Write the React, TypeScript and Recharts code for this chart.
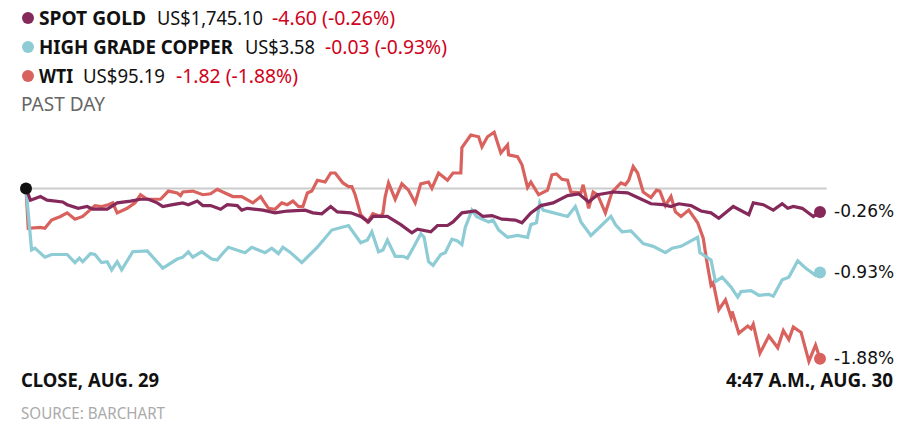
import React from "react";
import {
  LineChart,
  Line,
  XAxis,
  YAxis,
  ReferenceLine,
  ReferenceDot,
} from "recharts";

// minutes since close (t) and % change (v)
const goldPoints: [number, number][] = [
  [0, 0], [4, -0.13], [13, -0.09], [19, -0.13], [33, -0.15], [37, -0.18], [47, -0.22],
  [55, -0.2], [60, -0.23], [73, -0.23], [82, -0.16], [94, -0.14], [103, -0.12], [110, -0.12],
  [118, -0.16], [123, -0.2], [132, -0.18], [141, -0.16], [146, -0.18], [154, -0.14], [159, -0.19],
  [166, -0.19], [175, -0.23], [181, -0.18], [190, -0.19], [194, -0.24], [199, -0.22], [213, -0.24],
  [224, -0.27], [235, -0.25], [251, -0.24], [258, -0.27], [266, -0.28], [274, -0.2], [280, -0.26],
  [292, -0.27], [301, -0.31], [308, -0.37], [312, -0.31], [325, -0.31], [337, -0.4], [347, -0.49],
  [352, -0.45], [364, -0.48], [370, -0.41], [379, -0.41], [384, -0.37], [392, -0.27], [404, -0.25],
  [411, -0.31], [419, -0.3], [428, -0.34], [440, -0.35], [446, -0.38], [454, -0.27], [463, -0.19],
  [474, -0.16], [487, -0.08], [497, -0.06], [506, -0.15], [514, -0.07], [528, -0.04], [541, -0.05],
  [550, -0.1], [562, -0.17], [573, -0.18], [580, -0.2], [587, -0.17], [598, -0.19], [607, -0.25],
  [616, -0.27], [623, -0.33], [636, -0.2], [650, -0.29], [654, -0.16], [663, -0.18], [672, -0.24],
  [680, -0.17], [685, -0.22], [690, -0.2], [698, -0.22], [708, -0.31], [714, -0.26],
];

const copperPoints: [number, number][] = [
  [0, 0], [5, -0.68], [8, -0.66], [17, -0.76], [23, -0.73], [37, -0.73], [44, -0.82], [48, -0.77],
  [51, -0.81], [58, -0.72], [62, -0.73], [68, -0.82], [73, -0.81], [77, -0.9], [82, -0.81],
  [86, -0.9], [96, -0.7], [109, -0.69], [123, -0.88], [136, -0.78], [141, -0.76], [146, -0.7],
  [150, -0.76], [158, -0.7], [167, -0.78], [172, -0.79], [176, -0.73], [182, -0.65], [197, -0.71],
  [203, -0.65], [215, -0.71], [221, -0.66], [227, -0.72], [231, -0.65], [238, -0.71], [248, -0.82],
  [262, -0.65], [275, -0.46], [290, -0.41], [301, -0.6], [307, -0.57], [311, -0.48], [317, -0.7],
  [321, -0.68], [325, -0.57], [332, -0.75], [339, -0.75], [343, -0.77], [348, -0.66], [355, -0.5],
  [358, -0.54], [362, -0.81], [366, -0.85], [373, -0.73], [377, -0.71], [383, -0.56], [388, -0.58],
  [392, -0.62], [395, -0.43], [401, -0.24], [405, -0.31], [416, -0.37], [420, -0.35], [425, -0.46],
  [433, -0.54], [442, -0.52], [451, -0.54], [454, -0.4], [459, -0.38], [462, -0.16], [465, -0.24],
  [487, -0.31], [494, -0.2], [499, -0.37], [508, -0.52], [526, -0.31], [530, -0.4], [536, -0.48],
  [544, -0.47], [555, -0.61], [564, -0.64], [575, -0.71], [581, -0.66], [589, -0.64], [604, -0.54],
  [606, -0.71], [616, -0.79], [620, -1.03], [626, -0.98], [634, -1.09], [640, -1.2], [643, -1.14],
  [652, -1.13], [659, -1.18], [668, -1.17], [672, -1.19], [680, -1.01], [686, -0.98], [694, -0.8],
  [701, -0.88], [710, -0.96], [714, -0.93],
];

const wtiPoints: [number, number][] = [
  [0, 0], [2, -0.44], [13, -0.43], [17, -0.44], [23, -0.35], [31, -0.31], [37, -0.27], [44, -0.34],
  [51, -0.31], [62, -0.19], [68, -0.2], [74, -0.18], [78, -0.16], [82, -0.27], [91, -0.22],
  [98, -0.16], [103, -0.07], [109, -0.12], [121, -0.12], [128, -0.03], [136, -0.05], [139, -0.08],
  [141, -0.04], [150, -0.03], [159, -0.07], [166, -0.06], [172, -0.01], [177, -0.04], [186, -0.09],
  [194, -0.09], [204, -0.16], [211, -0.09], [213, -0.13], [218, -0.22], [224, -0.23], [230, -0.16],
  [235, -0.18], [240, -0.14], [245, -0.2], [249, -0.2], [253, -0.05], [257, -0.03], [262, 0.09],
  [269, 0.07], [274, 0.17], [278, 0.17], [285, 0.06], [290, 0.02], [293, 0.02], [296, -0.07],
  [301, -0.29], [307, -0.37], [312, -0.28], [319, -0.31], [321, -0.27], [323, -0.09], [326, 0.06],
  [332, -0.12], [338, 0.05], [344, -0.02], [350, -0.16], [355, 0.05], [362, 0.07], [365, 0.0],
  [371, 0.17], [379, 0.09], [384, 0.17], [391, 0.17], [392, 0.45], [400, 0.59], [407, 0.57],
  [410, 0.46], [415, 0.57], [421, 0.62], [427, 0.39], [433, 0.48], [434, 0.37], [442, 0.35],
  [446, 0.26], [451, 0.01], [454, 0.07], [461, -0.07], [469, -0.02], [473, 0.15], [477, 0.16],
  [482, 0.1], [487, 0.09], [490, -0.04], [499, -0.05], [501, 0.04], [506, -0.22], [510, -0.04],
  [514, -0.07], [521, -0.27], [527, -0.04], [535, 0.06], [539, 0.04], [542, 0.09], [546, 0.24],
  [550, 0.17], [555, -0.04], [562, -0.1], [567, -0.02], [570, -0.03], [575, -0.19], [580, -0.09],
  [584, -0.26], [589, -0.31], [596, -0.24], [604, -0.38], [609, -0.55], [612, -0.79], [616, -1.07],
  [618, -1.04], [623, -1.34], [629, -1.23], [634, -1.42], [635, -1.36], [641, -1.6], [649, -1.52],
  [652, -1.55], [654, -1.5], [660, -1.82], [668, -1.63], [676, -1.76], [681, -1.57], [686, -1.67],
  [690, -1.53], [697, -1.59], [704, -1.91], [710, -1.73], [714, -1.88],
];

const series = [
  { key: "wti", label: "-1.88%", color: "#d9625e", points: wtiPoints },
  { key: "copper", label: "-0.93%", color: "#8dcbd5", points: copperPoints },
  { key: "gold", label: "-0.26%", color: "#84295a", points: goldPoints },
];

const legendNames = ["SPOT GOLD", "HIGH GRADE COPPER", "WTI"];
const legendPrices = ["US$1,745.10", "US$3.58", "US$95.19"];
const legendChanges = ["-4.60 (-0.26%)", "-0.03 (-0.93%)", "-1.82 (-1.88%)"];
const legendColors = ["#84295a", "#8dcbd5", "#d9625e"];

// [start x, width] of each legend piece as measured on the original
const legendLayout = [
  [[39, 107], [157, 106], [272, 123]],
  [[39, 194], [245, 70], [325, 122]],
  [[39, 34], [83, 82], [176, 122]],
];

const font = "'Noto Sans', 'Open Sans', sans-serif";
const labelFont = "'DejaVu Sans', sans-serif";

const endDot = (color: string, label: string, last: number) => (props: any) => {
  const { cx, cy, index } = props;
  if (index !== last) return <g key={index} />;
  return (
    <g key={index}>
      <circle cx={cx} cy={cy} r={6} fill={color} />
      <text
        x={cx + 14}
        y={cy}
        dy="0.3em"
        fontSize={17}
        fontFamily={labelFont}
        fill="#111"
      >
        {label}
      </text>
    </g>
  );
};

const Txt = ({ x, y, w, size, weight, color, family, children }: any) => (
  <text
    x={x}
    y={y}
    fontSize={size}
    fontWeight={weight || 400}
    fill={color}
    fontFamily={family || font}
    textLength={w}
    lengthAdjust="spacingAndGlyphs"
  >
    {children}
  </text>
);

export default function App() {
  return (
    <div
      style={{
        position: "relative",
        width: 915,
        height: 430,
        margin: -8,
        background: "#fff",
        overflow: "hidden",
      }}
    >
      <svg
        width={915}
        height={430}
        style={{ position: "absolute", left: 0, top: 0 }}
      >
        {legendNames.map((name, i) => {
          const base = 25 + i * 29;
          const [n, p, c] = legendLayout[i];
          return (
            <g key={name}>
              <circle cx={28} cy={base - 7} r={6} fill={legendColors[i]} />
              <Txt x={n[0]} y={base} w={n[1]} size={19.5} weight={700} color="#111">
                {name}
              </Txt>
              <Txt x={p[0]} y={base} w={p[1]} size={19.5} color="#111">
                {legendPrices[i]}
              </Txt>
              <Txt x={c[0]} y={base} w={c[1]} size={19.5} color="#d0021b">
                {legendChanges[i]}
              </Txt>
            </g>
          );
        })}
        <Txt x={21} y={111} w={84} size={19.5} color="#666">
          PAST DAY
        </Txt>
        <Txt x={21} y={387} w={138} size={19} weight={700} color="#111">
          CLOSE, AUG. 29
        </Txt>
        <Txt x={726} y={387} w={167} size={19} weight={700} color="#111">
          4:47 A.M., AUG. 30
        </Txt>
        <Txt x={21} y={419} w={144} size={15.5} color="#aaaaaa">
          SOURCE: BARCHART
        </Txt>
      </svg>

      <div style={{ position: "absolute", left: 0, top: 0 }}>
        <LineChart
          width={915}
          height={430}
          margin={{ top: 125, right: 95, bottom: 60.5, left: 26 }}
        >
          <XAxis type="number" dataKey="t" domain={[0, 714]} hide />
          <YAxis type="number" domain={[-2, 0.7]} hide />
          <ReferenceLine
            segment={[{ x: 0, y: 0 }, { x: 720, y: 0 }]}
            stroke="#cccccc"
            strokeWidth={2}
            ifOverflow="visible"
          />
          {series.map((s) => {
            const data = s.points.map(([t, v]) => ({ t, v }));
            return (
              <Line
                key={s.key}
                data={data}
                dataKey="v"
                type="linear"
                stroke={s.color}
                strokeWidth={3.2}
                dot={endDot(s.color, s.label, data.length - 1)}
                activeDot={false}
                isAnimationActive={false}
              />
            );
          })}
          <ReferenceDot x={0} y={0} r={6} fill="#111" stroke="none" />
        </LineChart>
      </div>
    </div>
  );
}
